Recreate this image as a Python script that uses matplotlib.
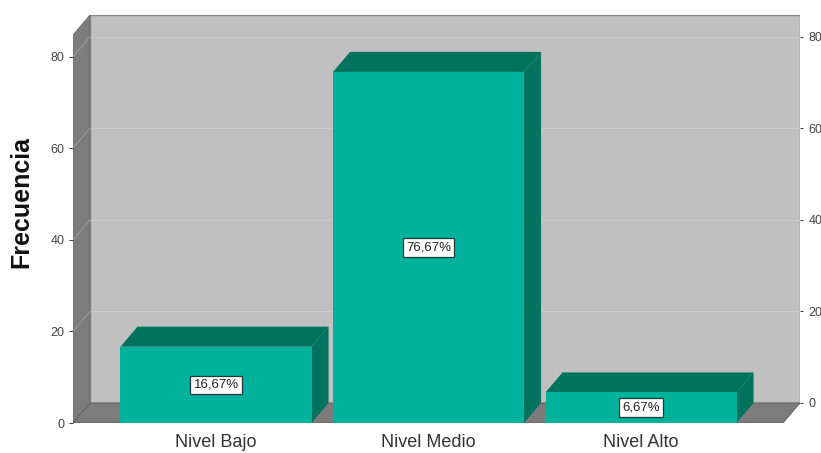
import matplotlib
matplotlib.use("Agg")
import matplotlib.pyplot as plt
from matplotlib.patches import Polygon, Rectangle

plt.rcParams['font.family'] = ['Liberation Sans', 'DejaVu Sans']

categories = ["Nivel Bajo", "Nivel Medio", "Nivel Alto"]
values = [16.67, 76.67, 6.67]
labels = ["16,67%", "76,67%", "6,67%"]
yticks = [0, 20, 40, 60, 80]

FRONT = "#00b29b"
DARK = "#00735f"
WALL = "#c0c0c0"
SIDE = "#7c7c7c"

# geometry of the pseudo-3d box (data units)
w = 0.899
dx, dy = 0.08, 4.37
xl, xr = -0.673, 2.748
top = 89.1

fig = plt.figure(figsize=(8.21, 4.53), dpi=100)
ax = fig.add_axes([73 / 821, 30 / 453, 727 / 821, 408 / 453])
ax.set_xlim(xl, xr)
ax.set_ylim(0, top)

"""walls and floor"""
ax.add_patch(Rectangle((xl + dx, dy), xr - xl - dx, top - dy, facecolor=WALL,
                       edgecolor="#8a8a8a", linewidth=1.0, zorder=0))
ax.add_patch(Polygon([(xl, 0), (xl + dx, dy), (xl + dx, top), (xl, top - dy)],
                     closed=True, facecolor=SIDE, edgecolor="#6a6a6a", linewidth=0.6, zorder=1))
ax.add_patch(Polygon([(xl, 0), (xr - dx, 0), (xr, dy), (xl + dx, dy)],
                     closed=True, facecolor=SIDE, edgecolor="#5a5a5a", linewidth=0.6, zorder=1))
for v in yticks[1:]:
    ax.plot([xl + dx, xr], [v + dy, v + dy], color="#cbcbcb", linewidth=0.8, zorder=0.5)
    ax.plot([xl, xl + dx], [v, v + dy], color="#9a9a9a", linewidth=0.8, zorder=1.5)

"""bars"""
xs = list(range(len(categories)))
ax.bar(xs, values, width=w, color=FRONT, zorder=3)
for x, v, lab in zip(xs, values, labels):
    x0, x1 = x - w / 2, x + w / 2
    ax.add_patch(Polygon([(x0, v), (x1, v), (x1 + dx, v + dy), (x0 + dx, v + dy)],
                         closed=True, facecolor=DARK, edgecolor="none", zorder=2))
    ax.add_patch(Polygon([(x1, 0), (x1 + dx, dy), (x1 + dx, v + dy), (x1, v)],
                         closed=True, facecolor=DARK, edgecolor="none", zorder=2))
    ax.text(x, v / 2, lab, ha="center", va="center", fontsize=9.5, color="#222222", zorder=5,
            bbox=dict(facecolor="white", edgecolor="#1e3a36", linewidth=0.9, boxstyle="square,pad=0.25"))

"""axes styling"""
for s in ax.spines.values():
    s.set_visible(False)
ax.set_xticks(xs)
ax.set_xticklabels(categories, fontsize=13, color="#333333")
ax.tick_params(axis="x", length=0, pad=8)
ax.set_yticks(yticks)
ax.tick_params(axis="y", labelsize=9, colors="#444444", length=3, pad=3)
ax.set_ylabel("Frecuencia", fontsize=18, fontweight="bold", color="#111111")
ax.yaxis.set_label_coords(-0.055, 0.542)

ax2 = ax.twinx()
ax2.set_ylim(-dy, top - dy)
ax2.set_yticks(yticks)
for s in ax2.spines.values():
    s.set_visible(False)
ax2.tick_params(axis="y", labelsize=9, colors="#444444", length=2, pad=4)

plt.savefig("out.png", dpi=100)
plt.close()
